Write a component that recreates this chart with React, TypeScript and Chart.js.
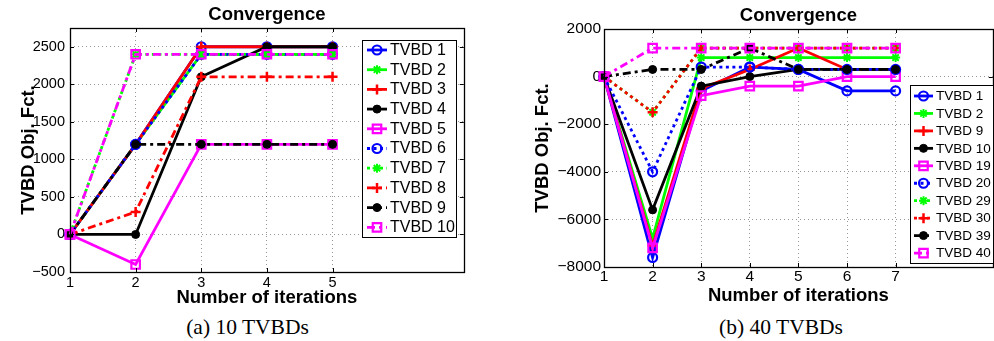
import React, { useEffect, useRef } from 'react';
import { Chart, registerables } from 'chart.js';
import { drawPoint } from 'chart.js/helpers';

Chart.register(...registerables);

// ---------- DATA: chart (a) 10 TVBDs ----------
const itersA = [1, 2, 3, 4, 5];
const xTicksA = [1, 2, 3, 4, 5];
const yTicksA = [-500, 0, 500, 1000, 1500, 2000, 2500];
const labelsA = ['TVBD 1', 'TVBD 2', 'TVBD 3', 'TVBD 4', 'TVBD 5', 'TVBD 6', 'TVBD 7', 'TVBD 8', 'TVBD 9', 'TVBD 10'];
const a_tvbd1 = [0, 1200, 2500, 2500, 2500];
const a_tvbd2 = [0, 1200, 2400, 2400, 2400];
const a_tvbd3 = [0, 1200, 2500, 2500, 2500];
const a_tvbd4 = [0, 0, 2100, 2500, 2500];
const a_tvbd5 = [0, -400, 1200, 1200, 1200];
const a_tvbd6 = [0, 1200, 2400, 2400, 2400];
const a_tvbd7 = [0, 2400, 2400, 2400, 2400];
const a_tvbd8 = [0, 300, 2100, 2100, 2100];
const a_tvbd9 = [0, 1200, 1200, 1200, 1200];
const a_tvbd10 = [0, 2400, 2400, 2400, 2400];

// ---------- DATA: chart (b) 40 TVBDs ----------
const itersB = [1, 2, 3, 4, 5, 6, 7];
const xTicksB = [1, 2, 3, 4, 5, 6, 7];
const yTicksB = [-8000, -6000, -4000, -2000, 0, 2000];
const labelsB = ['TVBD 1', 'TVBD 2', 'TVBD 9', 'TVBD 10', 'TVBD 19', 'TVBD 20', 'TVBD 29', 'TVBD 30', 'TVBD 39', 'TVBD 40'];
const b_tvbd1 = [0, -7600, -600, 400, 300, -600, -600];
const b_tvbd2 = [0, -6800, 800, 800, 800, 800, 800];
const b_tvbd9 = [0, -7100, -500, 300, 1200, 300, 300];
const b_tvbd10 = [0, -5600, -400, 0, 300, 300, 300];
const b_tvbd19 = [0, -7200, -800, -400, -400, 0, 0];
const b_tvbd20 = [0, -4000, 400, 400, 300, 300, 300];
const b_tvbd29 = [0, -1500, 1200, 1200, 1200, 1200, 1200];
const b_tvbd30 = [0, -1500, 1200, 1200, 1200, 1200, 1200];
const b_tvbd39 = [0, 300, 300, 1200, 300, 300, 300];
const b_tvbd40 = [0, 1200, 1200, 1200, 1200, 1200, 1200];

const seriesA = [a_tvbd1, a_tvbd2, a_tvbd3, a_tvbd4, a_tvbd5, a_tvbd6, a_tvbd7, a_tvbd8, a_tvbd9, a_tvbd10];
const seriesB = [b_tvbd1, b_tvbd2, b_tvbd9, b_tvbd10, b_tvbd19, b_tvbd20, b_tvbd29, b_tvbd30, b_tvbd39, b_tvbd40];

// ---------- STYLES ----------
const BLUE = '#0000ff';
const GREEN = '#00ff00';
const RED = '#ff0000';
const BLACK = '#000000';
const MAGENTA = '#ff00ff';
const SOLID: number[] = [];
const DOT = [3, 3.5];
const DASHDOT = [8, 4, 3, 4];

type Marker = 'o' | '*' | '+' | '.' | 's';
const markerDef = (m: Marker, color: string) => {
  switch (m) {
    case 'o': return { pointStyle: 'circle', radius: 4.5, borderWidth: 2.2, bg: 'rgba(0,0,0,0)' };
    case '*': return { pointStyle: 'star', radius: 4.5, borderWidth: 2, bg: 'rgba(0,0,0,0)' };
    case '+': return { pointStyle: 'cross', radius: 5, borderWidth: 2.5, bg: 'rgba(0,0,0,0)' };
    case '.': return { pointStyle: 'circle', radius: 4, borderWidth: 1, bg: color };
    default: return { pointStyle: 'rect', radius: 6, borderWidth: 2.2, bg: 'rgba(0,0,0,0)' };
  }
};

const stylesA: [string, number[], Marker][] = [
  [BLUE, SOLID, 'o'], [GREEN, SOLID, '*'], [RED, SOLID, '+'], [BLACK, SOLID, '.'], [MAGENTA, SOLID, 's'],
  [BLUE, DOT, 'o'], [GREEN, DOT, '*'], [RED, DASHDOT, '+'], [BLACK, DASHDOT, '.'], [MAGENTA, DASHDOT, 's'],
];
const stylesB: [string, number[], Marker][] = [
  [BLUE, SOLID, 'o'], [GREEN, SOLID, '*'], [RED, SOLID, '+'], [BLACK, SOLID, '.'], [MAGENTA, SOLID, 's'],
  [BLUE, DOT, 'o'], [GREEN, DOT, '*'], [RED, DOT, '+'], [BLACK, DASHDOT, '.'], [MAGENTA, DASHDOT, 's'],
];

const SANS = "'Liberation Sans', Arial, Helvetica, sans-serif";
const fmt = (v: number) => (v < 0 ? '\u2212' + Math.abs(v) : String(v));

function buildDatasets(iters: number[], series: number[][], labels: string[], styles: [string, number[], Marker][]) {
  const n = series.length;
  return series.map((vals, i) => {
    const [color, dash, m] = styles[i];
    const md = markerDef(m, color);
    return {
      label: labels[i],
      data: vals.map((v, k) => ({ x: iters[k], y: v })),
      borderColor: color,
      backgroundColor: md.bg,
      borderWidth: 2.8,
      borderDash: dash,
      pointStyle: md.pointStyle,
      pointRadius: md.radius,
      pointHoverRadius: md.radius,
      pointBorderWidth: md.borderWidth,
      pointBackgroundColor: md.bg,
      pointBorderColor: color,
      tension: 0,
      clip: false,
      order: n - i,
    };
  });
}

// plugin: full box, inward ticks, legend
const framePlugin = {
  id: 'frame',
  afterDraw(chart: any, _args: any, opts: any) {
    const ctx = chart.ctx as CanvasRenderingContext2D;
    const { left, right, top, bottom } = chart.chartArea;
    const xs = chart.scales.x;
    const ys = chart.scales.y;
    ctx.save();
    ctx.setLineDash([]);
    ctx.strokeStyle = '#000';
    ctx.lineWidth = 1;
    const tl = 4;
    ctx.beginPath();
    xs.ticks.forEach((t: any) => {
      const px = Math.round(xs.getPixelForValue(t.value)) + 0.5;
      ctx.moveTo(px, bottom); ctx.lineTo(px, bottom - tl);
      ctx.moveTo(px, top); ctx.lineTo(px, top + tl);
    });
    ys.ticks.forEach((t: any) => {
      const py = Math.round(ys.getPixelForValue(t.value)) + 0.5;
      ctx.moveTo(left, py); ctx.lineTo(left + tl, py);
      ctx.moveTo(right, py); ctx.lineTo(right - tl, py);
    });
    ctx.stroke();
    ctx.lineWidth = 1.3;
    ctx.strokeRect(Math.round(left) + 0.5, Math.round(top) + 0.5, Math.round(right - left), Math.round(bottom - top));

    // legend
    const L = opts.legend;
    if (L) {
      const ox = L.offsetX;
      ctx.fillStyle = '#fff';
      ctx.fillRect(L.x0 - ox, L.y0, L.x1 - L.x0, L.y1 - L.y0);
      ctx.strokeStyle = '#000';
      ctx.lineWidth = 1;
      ctx.strokeRect(L.x0 - ox + 0.5, L.y0 + 0.5, L.x1 - L.x0, L.y1 - L.y0);
      chart.data.datasets.forEach((ds: any, i: number) => {
        const y = L.rowY0 + i * L.rowStep;
        ctx.save();
        ctx.strokeStyle = ds.borderColor;
        ctx.lineWidth = ds.borderWidth;
        ctx.setLineDash(ds.borderDash || []);
        ctx.beginPath();
        ctx.moveTo(L.lineX0 - ox, y);
        ctx.lineTo(L.lineX1 - ox, y);
        ctx.stroke();
        ctx.setLineDash([]);
        ctx.fillStyle = ds.pointBackgroundColor;
        ctx.strokeStyle = ds.pointBorderColor;
        ctx.lineWidth = ds.pointBorderWidth;
        drawPoint(ctx, { pointStyle: ds.pointStyle, rotation: 0, radius: ds.pointRadius, borderWidth: ds.pointBorderWidth } as any,
          (L.lineX0 + L.lineX1) / 2 - ox, y);
        ctx.restore();
        ctx.fillStyle = '#000';
        ctx.font = `${L.fontSize}px ${SANS}`;
        ctx.textBaseline = 'middle';
        ctx.textAlign = 'left';
        ctx.fillText(ds.label, L.textX - ox, y + 0.5);
      });
    }
    ctx.restore();
  },
};

type Spec = {
  left: number; width: number; height: number;
  iters: number[]; series: number[][]; labels: string[]; styles: [string, number[], Marker][];
  xMax: number; yMin: number; yMax: number; xTicks: number[]; yTicks: number[];
  yAxisWidth: number; xAxisHeight: number; padRight: number;
  titlePad: { top: number; bottom: number };
  yTitlePad: number; xTitlePad: number; xTickPad: number; yTickPad: number; tickSize: number;
  legend: any;
};

function ConvChart({ spec }: { spec: Spec }) {
  const ref = useRef<HTMLCanvasElement>(null);
  useEffect(() => {
    if (!ref.current) return;
    const s = spec;
    const chart = new Chart(ref.current, {
      type: 'line',
      data: { datasets: buildDatasets(s.iters, s.series, s.labels, s.styles) as any },
      plugins: [framePlugin as any],
      options: {
        responsive: false,
        animation: false,
        devicePixelRatio: 1,
        events: [],
        layout: { padding: { left: 0, right: s.padRight, top: 0, bottom: 0 } },
        plugins: {
          legend: { display: false },
          tooltip: { enabled: false },
          title: {
            display: true,
            text: 'Convergence',
            fullSize: false,
            color: '#000',
            font: { family: SANS, size: 18.5, weight: 'bold', lineHeight: 1.2 },
            padding: s.titlePad,
          },
          frame: { legend: s.legend },
        } as any,
        scales: {
          x: {
            type: 'linear',
            min: 1,
            max: s.xMax,
            afterBuildTicks: (scale: any) => { scale.ticks = s.xTicks.map((v) => ({ value: v })); },
            afterFit: (scale: any) => { scale.height = s.xAxisHeight; },
            ticks: { color: '#000', font: { family: SANS, size: s.tickSize }, padding: s.xTickPad, maxRotation: 0, autoSkip: false },
            grid: { color: 'rgba(0,0,0,0.4)', lineWidth: 1, drawTicks: false },
            border: { display: false, dash: [1, 3] },
            title: {
              display: true,
              text: 'Number of iterations',
              color: '#000',
              font: { family: SANS, size: 18.5, weight: 'bold', lineHeight: 1.2 },
              padding: { top: 0, bottom: s.xTitlePad },
            },
          },
          y: {
            type: 'linear',
            min: s.yMin,
            max: s.yMax,
            afterBuildTicks: (scale: any) => { scale.ticks = s.yTicks.map((v) => ({ value: v })); },
            afterFit: (scale: any) => { scale.width = s.yAxisWidth; },
            ticks: { color: '#000', font: { family: SANS, size: s.tickSize }, padding: s.yTickPad, callback: (v: any) => fmt(Number(v)) },
            grid: { color: 'rgba(0,0,0,0.4)', lineWidth: 1, drawTicks: false },
            border: { display: false, dash: [1, 3] },
            title: {
              display: true,
              text: 'TVBD Obj. Fct.',
              color: '#000',
              font: { family: SANS, size: 18.5, weight: 'bold', lineHeight: 1.2 },
              padding: { top: s.yTitlePad, bottom: 0 },
            },
          },
        },
      } as any,
    });
    return () => chart.destroy();
  }, [spec]);
  return (
    <canvas
      ref={ref}
      width={spec.width}
      height={spec.height}
      style={{ position: 'absolute', left: spec.left, top: 0, width: spec.width, height: spec.height }}
    />
  );
}

const specA: Spec = {
  left: 0, width: 472, height: 310,
  iters: itersA, series: seriesA, labels: labelsA, styles: stylesA,
  xMax: 7, yMin: -500, yMax: 2750, xTicks: xTicksA, yTicks: yTicksA,
  yAxisWidth: 70, xAxisHeight: 38, padRight: 4,
  titlePad: { top: 3.9, bottom: 1.9 },
  yTitlePad: 18, xTitlePad: 0.9, xTickPad: 2, yTickPad: 5, tickSize: 14.5,
  legend: { offsetX: 0, x0: 362, x1: 456, y0: 40, y1: 237, rowY0: 50, rowStep: 19.7, lineX0: 367, lineX1: 387, textX: 390, fontSize: 16 },
};

const specB: Spec = {
  left: 520, width: 481, height: 310,
  iters: itersB, series: seriesB, labels: labelsB, styles: stylesB,
  xMax: 9, yMin: -8000, yMax: 2000, xTicks: xTicksB, yTicks: yTicksB,
  yAxisWidth: 84, xAxisHeight: 43, padRight: 2,
  titlePad: { top: 4.9, bottom: 1.9 },
  yTitlePad: 11.9, xTitlePad: 2.9, xTickPad: 0, yTickPad: 3, tickSize: 15.5,
  legend: { offsetX: 520, x0: 910, x1: 993, y0: 85, y1: 263, rowY0: 96, rowStep: 17.45, lineX0: 914, lineX1: 933, textX: 936, fontSize: 13.5 },
};

const captionStyle = (cx: number): React.CSSProperties => ({
  position: 'absolute',
  left: cx - 100,
  width: 200,
  top: 316,
  textAlign: 'center',
  fontFamily: "'Liberation Serif', 'Times New Roman', serif",
  fontSize: 21.5,
  lineHeight: '22px',
  color: '#000',
  whiteSpace: 'nowrap',
});

export default function App() {
  return (
    <div style={{ position: 'fixed', left: 0, top: 0, width: 994, height: 341, overflow: 'hidden', background: '#fff' }}>
      <ConvChart spec={specA} />
      <ConvChart spec={specB} />
      <div style={captionStyle(247.5)}>(a) 10 TVBDs</div>
      <div style={captionStyle(781)}>(b) 40 TVBDs</div>
    </div>
  );
}
